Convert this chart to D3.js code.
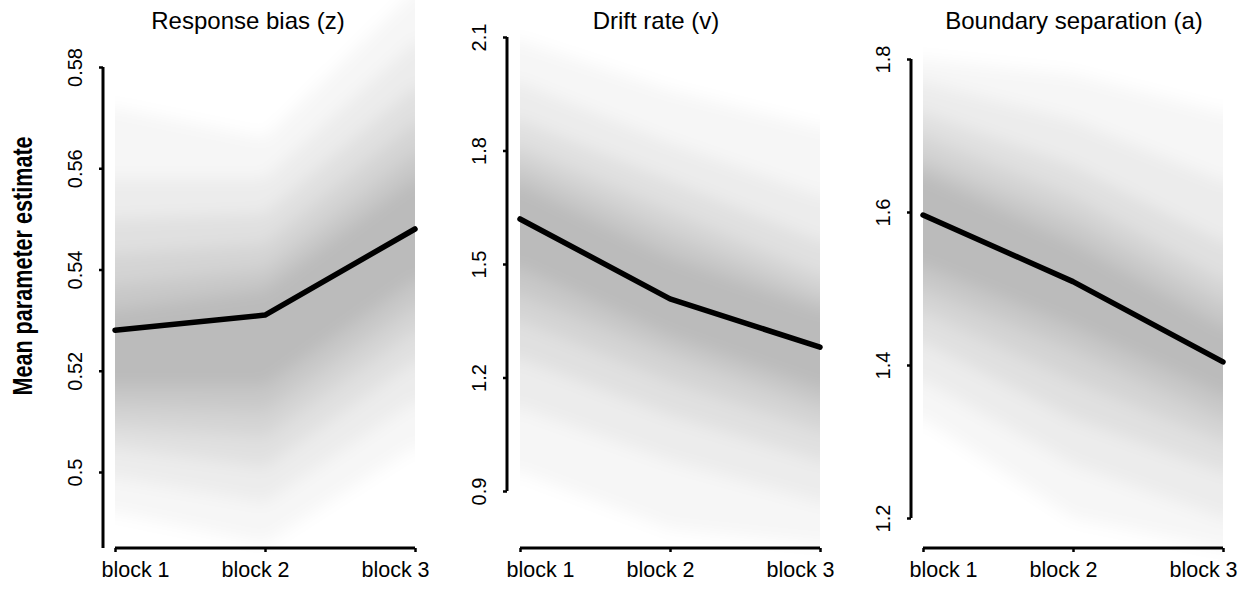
<!DOCTYPE html>
<html>
<head>
<meta charset="utf-8">
<script src="https://cdn.jsdelivr.net/npm/d3@7"></script>
<style>
  html, body { margin: 0; padding: 0; background: #ffffff; }
  svg { display: block; font-family: "Liberation Sans", Arial, Helvetica, sans-serif; }
</style>
</head>
<body>
<svg id="chart" width="1246" height="590"></svg>
<script>
// ---------------- data ----------------
const blocks = ["block 1", "block 2", "block 3"];
const panelTitles = ["Response bias (z)", "Drift rate (v)", "Boundary separation (a)"];
const yLabel = "Mean parameter estimate";

// group-level posterior means per block
const meanZ = [0.528, 0.531, 0.548];
const meanV = [1.619, 1.408, 1.280];
const meanA = [1.596, 1.509, 1.404];

// y tick labels per panel
const ticksZ = [0.50, 0.52, 0.54, 0.56, 0.58];
const ticksV = [0.9, 1.2, 1.5, 1.8, 2.1];
const ticksA = [1.2, 1.4, 1.6, 1.8];
const tickFmtZ = ["0.5", "0.52", "0.54", "0.56", "0.58"];
const tickFmtV = ["0.9", "1.2", "1.5", "1.8", "2.1"];
const tickFmtA = ["1.2", "1.4", "1.6", "1.8"];

// posterior-sample spread: nested intervals (outer -> inner), [block1, block2, block3]
const zLo = [[0.492,0.486,0.505],[0.499,0.494,0.514],[0.505,0.501,0.522],[0.509,0.507,0.528],[0.513,0.512,0.533],[0.517,0.517,0.538]];
const zHi = [[0.572,0.566,0.595],[0.558,0.558,0.585],[0.550,0.551,0.576],[0.543,0.545,0.569],[0.537,0.540,0.563],[0.532,0.536,0.558]];
const vLo = [[0.95,0.80,0.76],[1.12,0.98,0.87],[1.25,1.10,0.98],[1.35,1.19,1.06],[1.42,1.26,1.12],[1.49,1.31,1.17]];
const vHi = [[2.09,1.96,1.86],[1.98,1.82,1.68],[1.88,1.72,1.56],[1.81,1.64,1.47],[1.76,1.58,1.42],[1.71,1.52,1.38]];
const aLo = [[1.33,1.20,1.16],[1.38,1.27,1.20],[1.43,1.33,1.26],[1.47,1.38,1.30],[1.50,1.42,1.33],[1.53,1.45,1.36]];
const aHi = [[1.80,1.78,1.73],[1.77,1.72,1.64],[1.73,1.66,1.56],[1.70,1.62,1.51],[1.67,1.59,1.48],[1.65,1.56,1.45]];

// ---------------- layout ----------------
const panels = [
  { title: panelTitles[0], mean: meanZ, ticks: ticksZ, fmt: tickFmtZ, lo: zLo, hi: zHi,
    x0: 115, x1: 415, axisX: 103, titleX: 248, yDom: [0.50, 0.58], yRng: [472, 67], axisMin: 0.485 },
  { title: panelTitles[1], mean: meanV, ticks: ticksV, fmt: tickFmtV, lo: vLo, hi: vHi,
    x0: 520, x1: 820, axisX: 507, titleX: 656, yDom: [0.9, 2.1], yRng: [491, 37], axisMin: 0.9 },
  { title: panelTitles[2], mean: meanA, ticks: ticksA, fmt: tickFmtA, lo: aLo, hi: aHi,
    x0: 923, x1: 1223, axisX: 911, titleX: 1074, yDom: [1.2, 1.8], yRng: [518, 59], axisMin: 1.2 }
];
const xAxisY = 548;
const labelShift = [20, -10, -20];
const levelOpacity = [0.035, 0.045, 0.05, 0.055, 0.06, 0.065];

const svg = d3.select("#chart");
const defs = svg.append("defs");
const blur = defs.append("filter").attr("id", "soft")
  .attr("x", "-20%").attr("y", "-20%").attr("width", "140%").attr("height", "140%");
blur.append("feGaussianBlur").attr("stdDeviation", 8);

panels.forEach((p, i) => {
  const x = d3.scalePoint().domain(blocks).range([p.x0, p.x1]);
  const y = d3.scaleLinear().domain(p.yDom).range(p.yRng);

  defs.append("clipPath").attr("id", "clip" + i)
    .append("rect").attr("x", p.x0).attr("y", 0).attr("width", p.x1 - p.x0).attr("height", 590);

  const bandG = svg.append("g").attr("clip-path", `url(#clip${i})`)
    .append("g").attr("filter", "url(#soft)");

  // pad flat beyond the ends so the blur does not fade the clipped edges
  const pad = 30;
  const area = d3.area()
    .x(d => d.x)
    .y0(d => y(d.lo))
    .y1(d => y(d.hi));

  p.lo.forEach((loArr, k) => {
    const hiArr = p.hi[k];
    const pts = loArr.map((v, j) => ({ x: x(blocks[j]), lo: v, hi: hiArr[j] }));
    pts.unshift({ x: p.x0 - pad, lo: loArr[0], hi: hiArr[0] });
    pts.push({ x: p.x1 + pad, lo: loArr[2], hi: hiArr[2] });
    bandG.append("path")
      .attr("d", area(pts))
      .attr("fill", "#000")
      .attr("fill-opacity", levelOpacity[k]);
  });

  // mean line
  const line = d3.line().x((d, j) => x(blocks[j])).y(d => y(d));
  svg.append("path")
    .attr("d", line(p.mean))
    .attr("fill", "none")
    .attr("stroke", "#000")
    .attr("stroke-width", 5.5)
    .attr("stroke-linejoin", "round")
    .attr("stroke-linecap", "round");

  // y axis
  const yAxis = d3.axisLeft(y).tickValues(p.ticks).tickSize(4).tickSizeOuter(0)
    .tickFormat((d, j) => p.fmt[j]);
  const yg = svg.append("g").attr("transform", `translate(${p.axisX},0)`).call(yAxis);
  yg.select(".domain").remove();
  yg.selectAll(".tick line").attr("stroke", "#000").attr("stroke-width", 2.5);
  yg.selectAll(".tick text")
    .attr("transform", "rotate(-90)")
    .attr("x", 0).attr("y", -21).attr("dy", 0)
    .attr("text-anchor", "middle")
    .attr("fill", "#000")
    .style("font-size", "20px");
  yg.append("line")
    .attr("x1", 0).attr("x2", 0)
    .attr("y1", i === 0 ? xAxisY : y(p.axisMin)).attr("y2", y(p.yDom[1]))
    .attr("stroke", "#000").attr("stroke-width", 3);

  // x axis
  const xAxis = d3.axisBottom(x).tickSize(4).tickSizeOuter(0);
  const xg = svg.append("g").attr("transform", `translate(0,${xAxisY})`).call(xAxis);
  xg.select(".domain").remove();
  xg.append("line").attr("x1", p.x0).attr("x2", p.x1).attr("y1", 0).attr("y2", 0)
    .attr("stroke", "#000").attr("stroke-width", 3);
  xg.selectAll(".tick line").attr("stroke", "#000").attr("stroke-width", 2.5);
  xg.selectAll(".tick text")
    .attr("x", (d, j) => labelShift[j])
    .attr("y", 29).attr("dy", 0)
    .attr("fill", "#000")
    .style("font-size", "21.5px");

  // title
  svg.append("text")
    .attr("x", p.titleX).attr("y", 29)
    .attr("text-anchor", "middle")
    .style("font-size", "24px")
    .attr("fill", "#000")
    .text(p.title);
});

// shared y label
svg.append("text")
  .attr("transform", "translate(32,266) rotate(-90) scale(0.8,1)")
  .attr("text-anchor", "middle")
  .style("font-size", "27px")
  .style("font-weight", "bold")
  .attr("fill", "#000")
  .text(yLabel);
</script>
</body>
</html>
